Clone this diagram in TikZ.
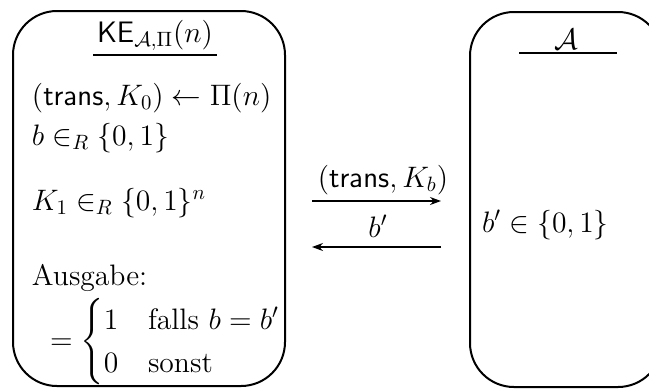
\RequirePackage{fix-cm}
\documentclass[tikz,border=0pt]{standalone}
\usepackage{amsmath}
\usetikzlibrary{arrows.meta}
\begin{document}
\begin{tikzpicture}[x=0.5pt,y=-0.5pt,
  every node/.style={font=\fontsize{14.8}{18}\selectfont, inner sep=0pt, outer sep=0pt},
  party/.style={line width=1pt, rounded corners=22pt},
  txt/.style={anchor=base west},
  msg/.style={line width=0.55pt, -{Stealth[length=5.5pt,width=4pt]}},
  uline/.style={line width=0.6pt}]
\clip (0,0) rectangle (649,388);
% boxes
\draw[party] (13,11) rectangle (285,386);
\draw[party] (470,12) rectangle (662,387);
% left party
\node[anchor=base] (title) at (155,42) {$\mathsf{KE}_{\mathcal{A},\Pi}(n)$};
\coordinate (tl) at (93,55);
\coordinate (tr) at (217,55);
\draw[uline] (tl) -- (tr);
\node[txt] (l1) at (32,105) {$(\mathsf{trans},K_0)\leftarrow\Pi(n)$};
\node[txt] (l2) at (32,145) {$b\in_R\{0,1\}$};
\node[txt] (l3) at (32,210) {$K_1\in_R\{0,1\}^n$};
\node[txt] (l4) at (32,285) {Ausgabe:};
\node[anchor=west] (l5) at (50,342) {$=\begin{cases}1 & \text{falls } b=b'\\ 0 & \text{sonst}\end{cases}$};
% right party
\node[anchor=base] (atitle) at (566,49) {$\mathcal{A}$};
\coordinate (al) at (519,53);
\coordinate (ar) at (617,53);
\draw[uline] (al) -- (ar);
\node[txt] (r1) at (482,232) {$b'\in\{0,1\}$};
% messages
\coordinate (m1s) at (312,201);
\coordinate (m1e) at (441,201);
\coordinate (m2s) at (441,247);
\coordinate (m2e) at (312,247);
\draw[msg] (m1s) -- (m1e);
\draw[msg] (m2s) -- (m2e);
\node[anchor=base] (m1) at (383,187) {$(\mathsf{trans},K_b)$};
\node[anchor=base] (m2) at (378,237) {$b'$};
\end{tikzpicture}
\end{document}
